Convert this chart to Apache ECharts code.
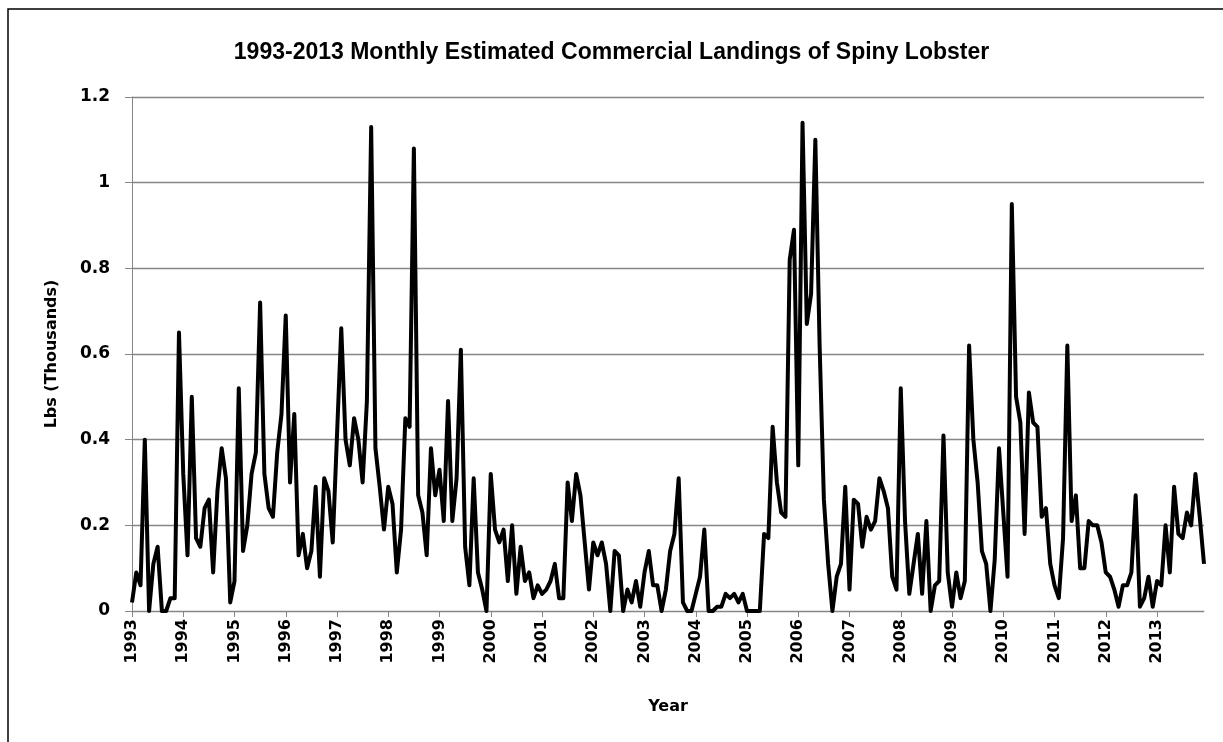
<!DOCTYPE html>
<html>
<head>
<meta charset="utf-8">
<script src="https://cdn.jsdelivr.net/npm/echarts@6/dist/echarts.min.js"></script>
<style>
html,body{margin:0;padding:0;background:#fff;}
#chart{width:1223px;height:742px;}
</style>
</head>
<body>
<div id="chart"></div>
<script>
// Years shown on the category axis (one label per January)
const years = [1993,1994,1995,1996,1997,1998,1999,2000,2001,2002,2003,2004,2005,2006,2007,2008,2009,2010,2011,2012,2013];
const months = ["01","02","03","04","05","06","07","08","09","10","11","12"];

// Monthly landings (Lbs, thousands), one array per year Jan..Dec
const y1993 = [0.02,0.09,0.06,0.40,0.00,0.11,0.15,0.00,0.00,0.03,0.03,0.65];
const y1994 = [0.32,0.13,0.50,0.17,0.15,0.24,0.26,0.09,0.28,0.38,0.31,0.02];
const y1995 = [0.07,0.52,0.14,0.20,0.32,0.37,0.72,0.32,0.24,0.22,0.37,0.46];
const y1996 = [0.69,0.30,0.46,0.13,0.18,0.10,0.14,0.29,0.08,0.31,0.28,0.16];
const y1997 = [0.41,0.66,0.40,0.34,0.45,0.40,0.30,0.49,1.13,0.38,0.29,0.19];
const y1998 = [0.29,0.25,0.09,0.19,0.45,0.43,1.08,0.27,0.23,0.13,0.38,0.27];
const y1999 = [0.33,0.21,0.49,0.21,0.31,0.61,0.15,0.06,0.31,0.09,0.05,0.00];
const y2000 = [0.32,0.19,0.16,0.19,0.07,0.20,0.04,0.15,0.07,0.09,0.03,0.06];
const y2001 = [0.04,0.05,0.07,0.11,0.03,0.03,0.30,0.21,0.32,0.27,0.16,0.05];
const y2002 = [0.16,0.13,0.16,0.11,0.00,0.14,0.13,0.00,0.05,0.02,0.07,0.01];
const y2003 = [0.09,0.14,0.06,0.06,0.00,0.05,0.14,0.18,0.31,0.02,0.00,0.00];
const y2004 = [0.04,0.08,0.19,0.00,0.00,0.01,0.01,0.04,0.03,0.04,0.02,0.04];
const y2005 = [0.00,0.00,0.00,0.00,0.18,0.17,0.43,0.30,0.23,0.22,0.82,0.89];
const y2006 = [0.34,1.14,0.67,0.74,1.10,0.62,0.26,0.11,0.00,0.08,0.11,0.29];
const y2007 = [0.05,0.26,0.25,0.15,0.22,0.19,0.21,0.31,0.28,0.24,0.08,0.05];
const y2008 = [0.52,0.21,0.04,0.11,0.18,0.04,0.21,0.00,0.06,0.07,0.41,0.09];
const y2009 = [0.01,0.09,0.03,0.07,0.62,0.40,0.30,0.14,0.11,0.00,0.12,0.38];
const y2010 = [0.23,0.08,0.95,0.50,0.44,0.18,0.51,0.44,0.43,0.22,0.24,0.11];
const y2011 = [0.06,0.03,0.17,0.62,0.21,0.27,0.10,0.10,0.21,0.20,0.20,0.16];
const y2012 = [0.09,0.08,0.05,0.01,0.06,0.06,0.09,0.27,0.01,0.03,0.08,0.01];
const y2013 = [0.07,0.06,0.20,0.09,0.29,0.18,0.17,0.23,0.20,0.32,0.22,0.11];

// Y-axis tick values
const yTicks = [0,0.2,0.4,0.6,0.8,1,1.2];

const yearly = [y1993,y1994,y1995,y1996,y1997,y1998,y1999,y2000,y2001,y2002,y2003,y2004,y2005,y2006,y2007,y2008,y2009,y2010,y2011,y2012,y2013];
const categories = [];
const values = [];
years.forEach((yr, i) => {
  months.forEach((m, j) => {
    categories.push(yr + "-" + m);
    values.push(yearly[i][j]);
  });
});

const chart = echarts.init(document.getElementById('chart'), null, {renderer:'canvas'});
const axisFont = "DejaVu Sans";
chart.setOption({
  animation: false,
  backgroundColor: '#fff',
  title: {
    text: '1993-2013 Monthly Estimated Commercial Landings of Spiny Lobster',
    left: 'center',
    top: 36,
    textStyle: {fontFamily: 'Liberation Sans', fontWeight: 'bold', fontSize: 23, color: '#000'}
  },
  graphic: [{
    type: 'rect',
    shape: {x: 8, y: 9, width: 1300, height: 800},
    style: {fill: 'none', stroke: '#000', lineWidth: 1.5},
    silent: true
  }],
  grid: {left: 132, right: 19, top: 97, bottom: 131, containLabel: false},
  xAxis: {
    type: 'category',
    data: categories,
    boundaryGap: false,
    name: 'Year',
    nameLocation: 'middle',
    nameGap: 88,
    nameTextStyle: {fontFamily: axisFont, fontWeight: 'bold', fontSize: 16, color: '#000'},
    axisLine: {show: true, lineStyle: {color: '#868686', width: 1}},
    axisTick: {show: true, interval: 11, length: 6, lineStyle: {color: '#868686'}},
    axisLabel: {
      interval: 11,
      rotate: 90,
      margin: 8,
      fontFamily: axisFont, fontWeight: 'bold', fontSize: 16, color: '#000',
      formatter: v => v.slice(0, 4)
    },
    splitLine: {show: false}
  },
  yAxis: {
    type: 'value',
    min: yTicks[0],
    max: yTicks[yTicks.length - 1],
    interval: 0.2,
    name: 'Lbs (Thousands)',
    nameLocation: 'middle',
    nameRotate: 90,
    nameGap: 72,
    nameTextStyle: {fontFamily: axisFont, fontWeight: 'bold', fontSize: 16, color: '#000'},
    axisLine: {show: true, lineStyle: {color: '#868686', width: 1}},
    axisTick: {show: true, length: 7, lineStyle: {color: '#868686'}},
    axisLabel: {
      margin: 22,
      fontFamily: axisFont, fontWeight: 'bold', fontSize: 17, color: '#000',
      formatter: v => String(+v.toFixed(1))
    },
    splitLine: {show: true, lineStyle: {color: '#868686', width: 1.3}}
  },
  series: [{
    type: 'line',
    data: values,
    showSymbol: false,
    symbol: 'none',
    lineStyle: {color: '#000', width: 4, join: 'round'},
    itemStyle: {color: '#000'}
  }]
});
</script>
</body>
</html>
